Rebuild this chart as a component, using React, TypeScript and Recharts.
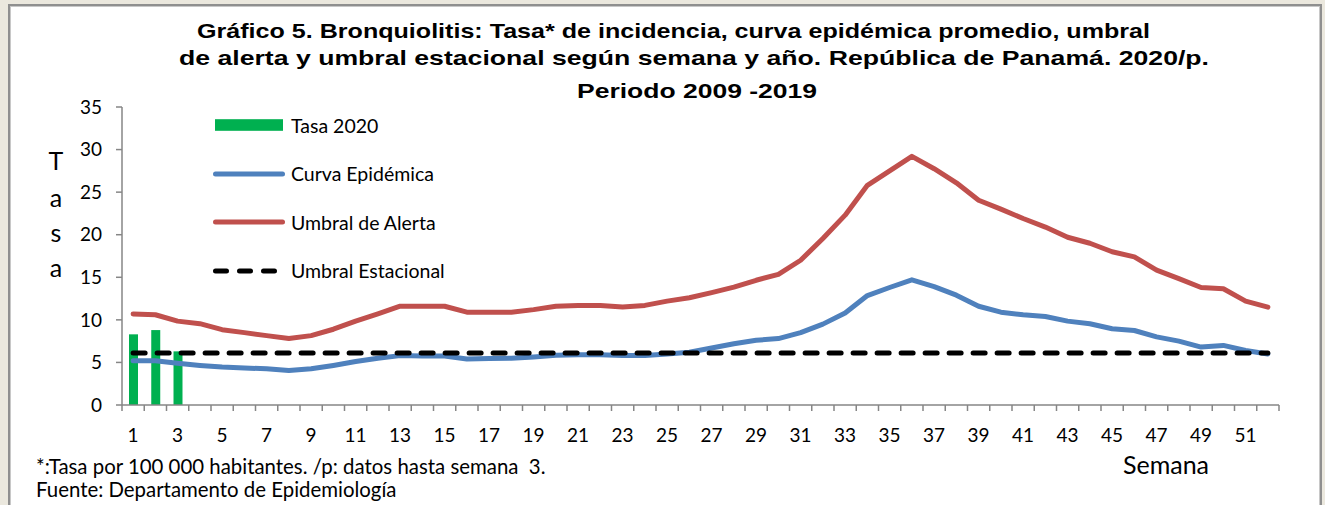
import { ComposedChart, Bar, Line, XAxis, YAxis, Legend } from "recharts";

const semanas = [
  1, 2, 3, 4, 5, 6, 7, 8, 9, 10, 11, 12, 13, 14, 15, 16, 17, 18, 19, 20, 21, 22, 23, 24, 25, 26,
  27, 28, 29, 30, 31, 32, 33, 34, 35, 36, 37, 38, 39, 40, 41, 42, 43, 44, 45, 46, 47, 48, 49, 50, 51, 52,
];
const tasa2020 = [8.3, 8.8, 6.3];
const curvaEpidemica = [
  5.2, 5.2, 4.9, 4.65, 4.45, 4.35, 4.25, 4.05, 4.25, 4.65, 5.1, 5.5, 5.8, 5.75, 5.75, 5.4, 5.45, 5.5,
  5.65, 5.85, 5.9, 5.9, 5.8, 5.8, 6.0, 6.2, 6.7, 7.2, 7.6, 7.8, 8.5, 9.5, 10.8, 12.85, 13.8, 14.7,
  13.9, 12.9, 11.6, 10.9, 10.6, 10.4, 9.85, 9.55, 8.95, 8.75, 8.0, 7.5, 6.8, 7.0, 6.4, 6.0,
];
const umbralAlerta = [
  10.7, 10.6, 9.85, 9.55, 8.85, 8.5, 8.15, 7.8, 8.15, 8.9, 9.85, 10.7, 11.6, 11.6, 11.6, 10.9, 10.9,
  10.9, 11.2, 11.6, 11.7, 11.7, 11.5, 11.7, 12.2, 12.6, 13.2, 13.85, 14.65, 15.35, 17.0, 19.55, 22.3,
  25.8, 27.5, 29.2, 27.75, 26.1, 24.05, 23.0, 21.9, 20.9, 19.7, 19.0, 18.0, 17.4, 15.85, 14.85, 13.8,
  13.65, 12.2, 11.5,
];
const umbralEstacional = [
  6.1, 6.1, 6.1, 6.1, 6.1, 6.1, 6.1, 6.1, 6.1, 6.1, 6.1, 6.1, 6.1, 6.1, 6.1, 6.1, 6.1, 6.1, 6.1, 6.1,
  6.1, 6.1, 6.1, 6.1, 6.1, 6.1, 6.1, 6.1, 6.1, 6.1, 6.1, 6.1, 6.1, 6.1, 6.1, 6.1, 6.1, 6.1, 6.1, 6.1,
  6.1, 6.1, 6.1, 6.1, 6.1, 6.1, 6.1, 6.1, 6.1, 6.1, 6.1, 6.1,
];
const yTicks = [0, 5, 10, 15, 20, 25, 30, 35];

const data = semanas.map((s, i) => ({
  semana: s,
  tasa: i < tasa2020.length ? tasa2020[i] : null,
  curva: curvaEpidemica[i],
  alerta: umbralAlerta[i],
  estacional: umbralEstacional[i],
}));

const W = 1325;
const H = 505;
const margin = { top: 107, right: 46, bottom: 60, left: 82 };
const yAxisW = 40;
const bandW = (W - margin.left - yAxisW - margin.right) / semanas.length;
const gris = "#868686";
const font = "Lato, sans-serif";
const fontTitulo = "Arial, 'Liberation Sans', sans-serif";

const estilos: Record<string, any> = {
  tasa: { color: "#00B050" },
  curva: { color: "#4F81BD" },
  alerta: { color: "#C0504D" },
  estacional: { color: "#000000", dash: "11 13" },
};
const orden = ["tasa", "curva", "alerta", "estacional"];

function SemanaTick(props: any) {
  const { x, y, payload } = props;
  const half = bandW / 2;
  return (
    <g>
      <line x1={x - half} x2={x - half} y1={y} y2={y + 6} stroke={gris} strokeWidth={1.5} />
      {payload.value === 52 && (
        <line x1={x + half} x2={x + half} y1={y} y2={y + 6} stroke={gris} strokeWidth={1.5} />
      )}
      {payload.value % 2 === 1 && (
        <text x={x} y={y + 37} textAnchor="middle" fontFamily={font} fontSize={19} fill="#000">
          {payload.value}
        </text>
      )}
    </g>
  );
}

function Leyenda(props: any) {
  const items = [...(props.payload ?? [])].sort(
    (a: any, b: any) => orden.indexOf(a.dataKey) - orden.indexOf(b.dataKey)
  );
  return (
    <div style={{ fontFamily: font, fontSize: 19.5, color: "#000" }}>
      {items.map((it: any) => {
        const st = estilos[it.dataKey];
        return (
          <div key={it.dataKey} style={{ height: 48.5, display: "flex", alignItems: "center" }}>
            <svg width={78} height={14} style={{ display: "block" }}>
              {it.dataKey === "tasa" ? (
                <rect x={2} y={1.2} width={68} height={11.6} fill={st.color} />
              ) : (
                <line
                  x1={2.5}
                  x2={it.dataKey === "estacional" ? 62.5 : 69.5}
                  y1={7}
                  y2={7}
                  stroke={st.color}
                  strokeWidth={5}
                  strokeLinecap="round"
                  strokeDasharray={st.dash}
                />
              )}
            </svg>
            <span>{it.value}</span>
          </div>
        );
      })}
    </div>
  );
}

export default function App() {
  return (
    <div style={{ position: "fixed", left: 0, top: 0, width: W, height: H, background: "#EBE8DE", overflow: "hidden" }}>
      <div
        style={{
          position: "absolute",
          left: 8,
          top: 4,
          width: 1314,
          height: 540,
          boxSizing: "border-box",
          background: "#fff",
          borderLeft: "2px solid #8f8f8f",
          borderTop: "2px solid #8f8f8f",
          borderRight: "2px solid #8f8f8f",
          boxShadow: "inset 1px 1px 0 #c8c8c8, inset -1px 0 0 #c8c8c8",
        }}
      />
      <div style={{ position: "absolute", left: 0, top: 0 }}>
        <ComposedChart width={W} height={H} data={data} margin={margin}>
          <XAxis
            dataKey="semana"
            interval={0}
            tickLine={false}
            tickSize={0}
            tickMargin={0}
            height={40}
            axisLine={{ stroke: gris, strokeWidth: 1.5 }}
            tick={<SemanaTick />}
          />
          <YAxis
            width={yAxisW}
            domain={[0, 35]}
            ticks={yTicks}
            interval={0}
            tickSize={6}
            tickMargin={14}
            axisLine={{ stroke: gris, strokeWidth: 1.5 }}
            tickLine={{ stroke: gris, strokeWidth: 1.5 }}
            tick={{ fontFamily: font, fontSize: 19, fill: "#000" }}
          />
          <Legend
            layout="vertical"
            align="center"
            verticalAlign="middle"
            wrapperStyle={{ left: 213, top: 101, width: 320 }}
            content={<Leyenda />}
          />
          <Bar dataKey="tasa" name="Tasa 2020" fill="#00B050" barSize={9} isAnimationActive={false} />
          <Line
            dataKey="alerta"
            name="Umbral de Alerta"
            type="linear"
            stroke="#C0504D"
            strokeWidth={5}
            strokeLinecap="round"
            strokeLinejoin="round"
            dot={false}
            activeDot={false}
            isAnimationActive={false}
          />
          <Line
            dataKey="curva"
            name="Curva Epidémica"
            type="linear"
            stroke="#4F81BD"
            strokeWidth={5}
            strokeLinecap="round"
            strokeLinejoin="round"
            dot={false}
            activeDot={false}
            isAnimationActive={false}
          />
          <Line
            dataKey="estacional"
            name="Umbral Estacional"
            type="linear"
            stroke="#000"
            strokeWidth={5}
            strokeDasharray="12 12"
            strokeLinecap="round"
            dot={false}
            activeDot={false}
            isAnimationActive={false}
          />
        </ComposedChart>
      </div>
      <svg width={W} height={H} style={{ position: "absolute", left: 0, top: 0, pointerEvents: "none" }}>
        <g style={{ fontFamily: fontTitulo, fontWeight: 700, fontSize: 21 }} fill="#000">
          <text x={197} y={38} textLength={953} lengthAdjust="spacingAndGlyphs">
            Gráfico 5. Bronquiolitis: Tasa* de incidencia, curva epidémica promedio, umbral
          </text>
          <text x={179} y={65} textLength={1030} lengthAdjust="spacingAndGlyphs">
            de alerta y umbral estacional según semana y año. República de Panamá. 2020/p.
          </text>
          <text x={577} y={98} textLength={240} lengthAdjust="spacingAndGlyphs">
            Periodo 2009 -2019
          </text>
        </g>
        <g fontFamily={font} fontSize={25} textAnchor="middle" fill="#000">
          <text x={56} y={170}>T</text>
          <text x={56} y={207}>a</text>
          <text x={56} y={242}>s</text>
          <text x={56} y={277}>a</text>
        </g>
        <text x={1166} y={474} textAnchor="middle" fontFamily={font} fontSize={25} fill="#000">
          Semana
        </text>
        <g fontFamily={font} fontSize={20.4} fill="#000">
          <text x={36} y={474} style={{ whiteSpace: "pre" }}>
            *:Tasa por 100 000 habitantes. /p: datos hasta semana  3.
          </text>
          <text x={36} y={497}>Fuente: Departamento de Epidemiología</text>
        </g>
      </svg>
    </div>
  );
}
